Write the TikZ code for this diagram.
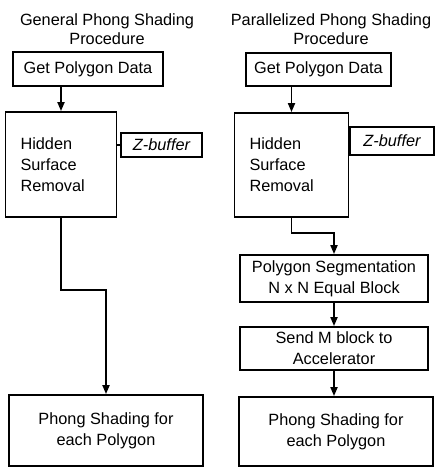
\documentclass[tikz,border=0pt]{standalone}
\usepackage{fontspec}
\setmainfont{Liberation Sans}
\usetikzlibrary{arrows.meta}
\begin{document}
\begin{tikzpicture}[x=1pt,y=-1pt,
  every node/.style={font=\fontsize{16.3}{21}\selectfont},
  box/.style={draw,line width=1.8pt,inner sep=0pt,align=center},
  title/.style={align=center,inner sep=0pt,font=\fontsize{16.3}{19}\selectfont},
  link/.style={line width=1.8pt},
  arr/.style={line width=1.8pt,-{Triangle[length=9pt,width=7pt]}}]
\useasboundingbox (0,0) rectangle (435,468);

% left column: general procedure
\node[title] (tL) at (107,29) {General Phong Shading\\Procedure};
\node[box,minimum width=150pt,minimum height=34pt] (gpdL) at (88,69) {Get Polygon Data};
\node[box,minimum width=96pt,minimum height=105pt,align=left,text width=81pt,inner xsep=15pt] (hsrL) at (61,164.5) {Hidden\\Surface\\Removal};
\node[box,minimum width=81pt,minimum height=24pt] (zbL) at (161.5,145) {\itshape Z-buffer};
\node[box,minimum width=194pt,minimum height=71pt] (phL) at (106,430.5) {Phong Shading for\\each Polygon};
\coordinate (zjL) at (hsrL.east |- zbL.west);

\draw[arr] (gpdL.south -| hsrL.north) -- (hsrL.north);
\draw[link] (zjL) -- (zbL.west);
\draw[arr] (hsrL.south) -- ++(0,72) -| (phL.north);

% right column: parallelized procedure
\node[title] (tR) at (331,29) {Parallelized Phong Shading\\Procedure};
\node[box,minimum width=145pt,minimum height=33pt] (gpdR) at (318.5,69.5) {Get Polygon Data};
\node[box,minimum width=99pt,minimum height=104pt,align=left,text width=84pt,inner xsep=15pt] (hsrR) at (291.5,165) {Hidden\\Surface\\Removal};
\node[box,minimum width=84pt,minimum height=28pt] (zbR) at (392,141) {\itshape Z-buffer};
\node[box,minimum width=188pt,minimum height=47pt] (psR) at (334,278.5) {Polygon Segmentation\\N x N Equal Block};
\node[box,minimum width=188pt,minimum height=43pt] (smR) at (334,348.5) {Send M block to\\Accelerator};
\node[box,minimum width=194pt,minimum height=69pt] (phR) at (336,431.5) {Phong Shading for\\each Polygon};

\draw[arr] (gpdR.south -| hsrR.north) -- (hsrR.north);
\draw[link] (hsrR.east |- zbR.west) -- (zbR.west);
\draw[arr] (hsrR.south) -- ++(0,15) -| (psR.north);
\draw[arr] (psR.south) -- (smR.north);
\draw[arr] (smR.south) -- (smR.south |- phR.north);
\end{tikzpicture}
\end{document}
